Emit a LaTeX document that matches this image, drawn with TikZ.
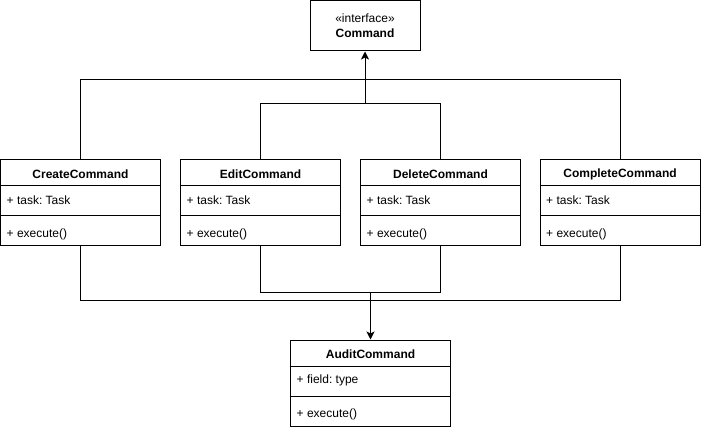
\documentclass[tikz,border=0pt]{standalone}
\usepackage{fontspec}
\setmainfont{Liberation Sans}
\frenchspacing
\usetikzlibrary{arrows.meta}
\newcommand{\umlclassbox}[6]{%
  \node[classframe, minimum width=160, minimum height=86] (#1) at (#2+80,#3+43) {};
  \node[classtitle] (#1-title) at (#2+80,#3+14) {#4};
  \draw[line width=1pt] (#2,#3+26) -- (#2+160,#3+26);
  \node[classtext] (#1-attr) at (#2+6,#3+40) {#5};
  \draw[line width=1pt] (#2,#3+56) -- (#2+160,#3+56);
  \node[classtext] (#1-meth) at (#2+6,#3+74) {#6};
}
\begin{document}
\begin{tikzpicture}[x=1pt,y=-1pt,
  classframe/.style={draw, line width=1pt, inner sep=0pt, fill=white},
  classtitle/.style={font=\fontsize{12}{14}\selectfont\bfseries, inner sep=0pt},
  classtext/.style={font=\fontsize{12}{14}\selectfont, anchor=west, inner sep=0pt},
  conn/.style={line width=1pt},
  arr/.style={line width=1pt, -{Stealth[length=8pt,width=8pt,inset=2pt]}}]
\useasboundingbox (0,0) rectangle (701,430);
% interface
\node[classframe, minimum width=110, minimum height=50] (command) at (365,26) {};
\node[font=\fontsize{12}{15}\selectfont, align=center, inner sep=0pt] (command-text) at (365,26) {«interface»\\\bfseries Command};
% classes
\umlclassbox{create}{0.5}{160}{CreateCommand}{+ task: Task}{+ execute()}
\umlclassbox{edit}{180.5}{160}{EditCommand}{+ task: Task}{+ execute()}
\umlclassbox{delete}{360.5}{160}{DeleteCommand}{+ task: Task}{+ execute()}
\umlclassbox{complete}{540}{160}{CompleteCommand}{+ task: Task}{+ execute()}
\umlclassbox{audit}{290.5}{340}{AuditCommand}{+ field: type}{+ execute()}
% top connectors
\coordinate (oa) at (create.north |- 0,80);
\coordinate (ob) at (complete.north |- 0,80);
\coordinate (ia) at (edit.north |- 0,104);
\coordinate (ib) at (delete.north |- 0,104);
\coordinate (im) at (command.south |- 0,104);
\draw[conn] (create.north) -- (oa) -- (ob) -- (complete.north);
\draw[conn] (edit.north) -- (ia) -- (ib) -- (delete.north);
\draw[arr] (im) -- (command.south);
% bottom connectors
\coordinate (boa) at (create.south |- 0,300);
\coordinate (bob) at (complete.south |- 0,300);
\coordinate (bia) at (edit.south |- 0,292);
\coordinate (bib) at (delete.south |- 0,292);
\coordinate (bim) at (audit.north |- 0,292);
\draw[conn] (create.south) -- (boa) -- (bob) -- (complete.south);
\draw[conn] (edit.south) -- (bia) -- (bib) -- (delete.south);
\draw[arr] (bim) -- (audit.north);
\end{tikzpicture}
\end{document}
